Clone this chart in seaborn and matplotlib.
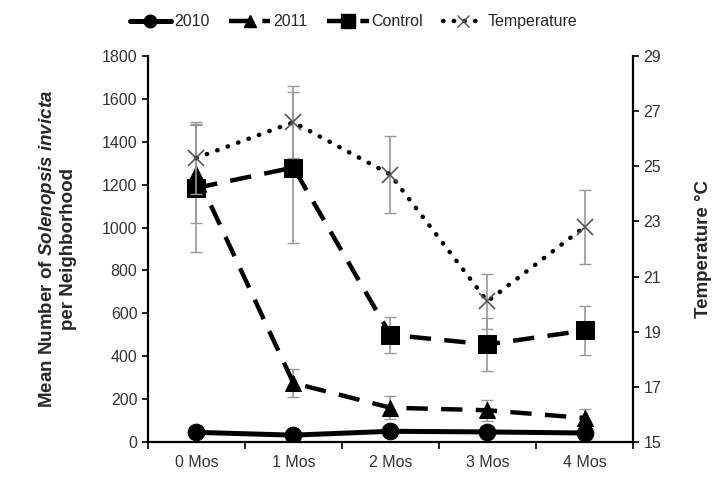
import numpy as np
import pandas as pd
import matplotlib
matplotlib.use("Agg")
import matplotlib.pyplot as plt
import seaborn as sns
from matplotlib.lines import Line2D

# data
months = ["0 Mos", "1 Mos", "2 Mos", "3 Mos", "4 Mos"]
ants_2010 = [45, 32, 50, 47, 42]
err_2010 = [10, 8, 12, 10, 10]
ants_2011 = [1250, 275, 160, 148, 112]
err_2011 = [230, 65, 55, 50, 40]
control = [1185, 1280, 500, 455, 520]
err_control = [300, 350, 85, 125, 115]
temperature = [25.3, 26.6, 24.7, 20.1, 22.8]
err_temperature = [1.3, 1.3, 1.4, 1.0, 1.35]

sns.set_style("white")
plt.rcParams["font.family"] = ["Liberation Sans", "DejaVu Sans"]
plt.rcParams["mathtext.fontset"] = "custom"
plt.rcParams["mathtext.rm"] = "Liberation Sans:weight=bold"
plt.rcParams["mathtext.bf"] = "Liberation Sans:weight=bold"
plt.rcParams["mathtext.it"] = "Liberation Sans:style=italic:weight=bold"
plt.rcParams["mathtext.bfit"] = "Liberation Sans:style=italic:weight=bold"

df = pd.DataFrame({"x": np.arange(len(months)), "m2010": ants_2010, "m2011": ants_2011,
                   "control": control, "temp": temperature})

fig = plt.figure(figsize=(7.21, 4.78), dpi=100)
ax = fig.add_axes([0.205, 0.0753, 0.673, 0.8075])
ax2 = ax.twinx()

grey = "#999999"
x = df["x"].values
ax.errorbar(x, ants_2010, yerr=err_2010, fmt="none", ecolor=grey, elinewidth=1.2, capsize=4, zorder=1)
ax.errorbar(x, ants_2011, yerr=err_2011, fmt="none", ecolor=grey, elinewidth=1.2, capsize=4, zorder=1)
ax.errorbar(x, control, yerr=err_control, fmt="none", ecolor=grey, elinewidth=1.2, capsize=4, zorder=1)
ax2.errorbar(x, temperature, yerr=err_temperature, fmt="none", ecolor=grey, elinewidth=1.2, capsize=4, zorder=1)

sns.lineplot(data=df, x="x", y="m2010", ax=ax, color="black", lw=3.6, marker="o", markersize=12,
             markeredgecolor="black", zorder=3)
sns.lineplot(data=df, x="x", y="m2011", ax=ax, color="black", lw=3.2, marker="^", markersize=11,
             markeredgecolor="black", dashes=(4.8, 3), zorder=3)
sns.lineplot(data=df, x="x", y="control", ax=ax, color="black", lw=3.2, marker="s", markersize=13,
             markeredgecolor="black", dashes=(4.8, 3), zorder=3)
sns.lineplot(data=df, x="x", y="temp", ax=ax2, color="black", lw=3.2, marker="x", markersize=11,
             markeredgecolor="#555555", markeredgewidth=1.2, zorder=3)
ax2.lines[-1].set_linestyle((0, (0.1, 2.4)))
ax2.lines[-1].set_dash_capstyle("round")

ax.set_xlim(-0.5, len(months) - 0.5)
ax.set_ylim(0, 1800)
ax.set_yticks(np.arange(0, 1801, 200))
ax2.set_ylim(15, 29)
ax2.set_yticks(np.arange(15, 30, 2))
ax.set_xticks(x)
ax.set_xticklabels(months)
ax.set_xticks(np.arange(-0.5, len(months), 1), minor=True)
ax.tick_params(axis="x", which="major", length=0, pad=9, labelsize=11.5, labelcolor="#333333")
ax.tick_params(axis="x", which="minor", length=5, width=1.2, direction="out", bottom=True, color="black")
ax.tick_params(axis="y", length=4, width=1.2, direction="out", left=True, labelsize=11.5, labelcolor="#333333", color="black")
ax2.tick_params(axis="y", length=4, width=1.2, direction="out", right=True, labelsize=11.5, labelcolor="#333333", color="black")

for a in (ax, ax2):
    for s in a.spines.values():
        s.set_visible(False)
    a.set_xlabel("")
ax.spines["left"].set_visible(True)
ax.spines["bottom"].set_visible(True)
ax2.spines["right"].set_visible(True)
for s in (ax.spines["left"], ax.spines["bottom"], ax2.spines["right"]):
    s.set_linewidth(1.6)
    s.set_color("black")

ax.set_ylabel("Mean Number of $\\mathbfit{Solenopsis}$ $\\mathbfit{invicta}$\nper Neighborhood",
              fontsize=13.5, fontweight="bold", labelpad=18, linespacing=1.1)
ax2.set_ylabel("Temperature °C", fontsize=13.5, fontweight="bold", labelpad=24)

handles = [
    Line2D([], [], color="black", lw=3.6, marker="o", markersize=9),
    Line2D([], [], color="black", lw=3.2, marker="^", markersize=9, dashes=(4.5, 3)),
    Line2D([], [], color="black", lw=3.2, marker="s", markersize=10, dashes=(4.5, 3)),
    Line2D([], [], color="black", lw=3.2, marker="x", markersize=8, markeredgecolor="#555555",
           linestyle=(0, (0.1, 2.3)), dash_capstyle="round"),
]
fig.legend(handles, ["2010", "2011", "Control", "Temperature"], loc="upper center",
           bbox_to_anchor=(0.49, 1.0), ncol=4, frameon=False, fontsize=11.5,
           handlelength=2.6, handletextpad=0.2, columnspacing=1.2)

fig.savefig("out.png", dpi=100)
